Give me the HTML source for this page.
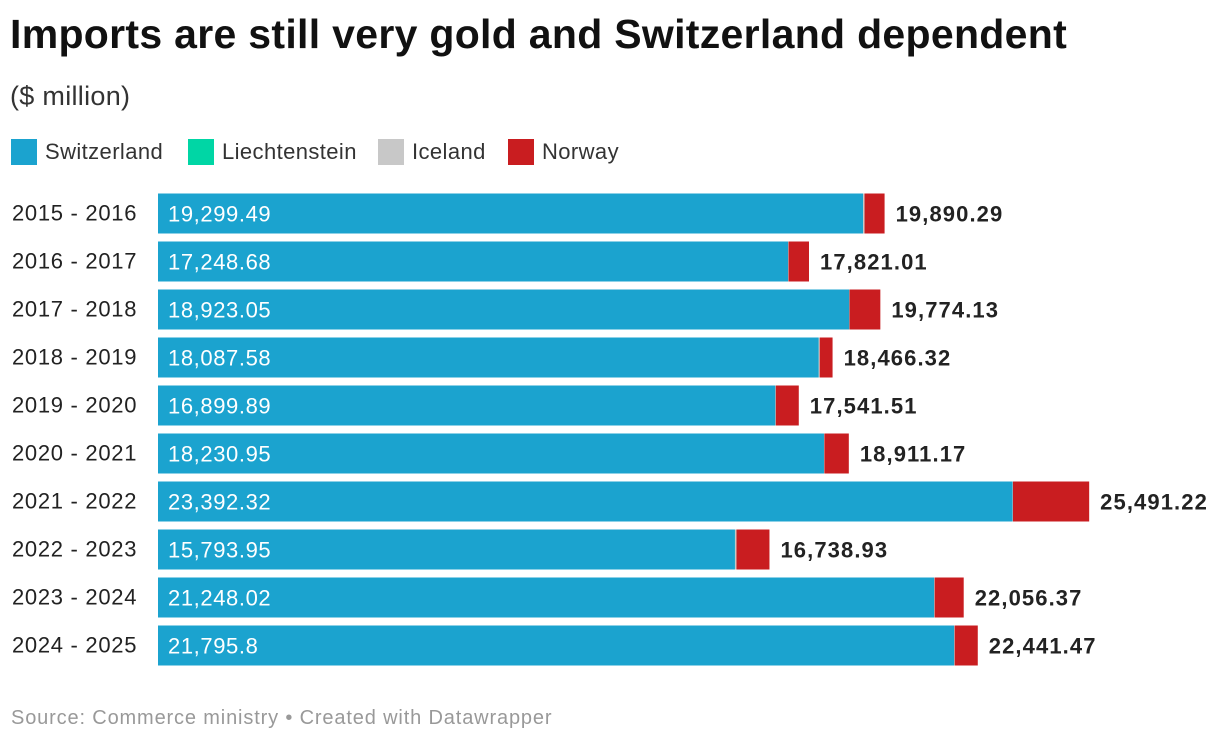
<!DOCTYPE html>
<html><head><meta charset="utf-8"><style>
body{margin:0;width:1220px;height:742px;background:#fff;font-family:"Liberation Sans",sans-serif;position:relative;overflow:hidden;color:#222}
.t{position:absolute;white-space:nowrap}
</style></head><body>
<div class="t" style="left:10px;top:11px;font-size:41px;font-weight:bold;color:#111;letter-spacing:0.3px">Imports are still very gold and Switzerland dependent</div>
<div class="t" style="left:10px;top:81px;font-size:27px;color:#333;letter-spacing:0.3px">($ million)</div>
<div id="legend"></div>
<svg id="chart" width="1220" height="742" style="position:absolute;left:0;top:0"></svg>
<div class="t" style="left:11px;top:707px;font-size:20px;color:#999;letter-spacing:0.85px">Source: Commerce ministry • Created with Datawrapper</div>
<script>
const categories=["2015 - 2016","2016 - 2017","2017 - 2018","2018 - 2019","2019 - 2020","2020 - 2021","2021 - 2022","2022 - 2023","2023 - 2024","2024 - 2025"];
const swiss=[19299.49,17248.68,18923.05,18087.58,16899.89,18230.95,23392.32,15793.95,21248.02,21795.8];
const totals=[19890.29,17821.01,19774.13,18466.32,17541.51,18911.17,25491.22,16738.93,22056.37,22441.47];
const liech=[2,2,2,2,2,2,2,2,2,2];
const iceland=[40,10,5,25,10,10,10,40,10,10];
const seriesNames=["Switzerland","Liechtenstein","Iceland","Norway"];
const colors=["#1ba3cf","#00d6a5","#c8c8c8","#c91d20"];
const ns="http://www.w3.org/2000/svg";
const svg=document.getElementById('chart');
const x0=158, k=(863-158)/19299.49;
const xs=v=>v*k;
const yTop=i=>193.5+i*48;
const lg=document.getElementById('legend');
let lx=11;
seriesNames.forEach((n,i)=>{
  const e=document.createElement('div');
  
  
  e.className='t';
  e.style.cssText=`left:${lx}px;top:139px;font-size:22px;color:#333;display:flex;align-items:center;letter-spacing:0.4px`;
  e.innerHTML=`<span style="display:inline-block;width:26px;height:26px;background:${colors[i]};margin-right:8px"></span>${n}`;
  lg.appendChild(e);
  lx+=[177,190,130,130][i];
});
function rect(x,y,w,h,c,name){const r=document.createElementNS(ns,'rect');r.setAttribute('x',x);r.setAttribute('y',y);r.setAttribute('width',Math.max(0,w));r.setAttribute('height',h);r.setAttribute('fill',c);


svg.appendChild(r);}
function text(x,y,s,o,name){const t=document.createElementNS(ns,'text');t.setAttribute('x',x);t.setAttribute('y',y);t.textContent=s;for(const a in o)t.setAttribute(a,o[a]);


svg.appendChild(t);}
categories.forEach((c,i)=>{
  const y=yTop(i),h=40;
  const norway=totals[i]-swiss[i]-liech[i]-iceland[i];
  const vals=[swiss[i],liech[i],iceland[i],norway];
  let x=x0;
  vals.forEach((v,j)=>{rect(x,y,xs(v),h,colors[j],'bar-'+seriesNames[j].toLowerCase());x+=xs(v);});
  text(12,y+27,c,{'font-size':22,'fill':'#222','font-family':'Liberation Sans','letter-spacing':'0.7'},'row-label');
  text(168,y+28,swiss[i].toLocaleString('en-US',{maximumFractionDigits:2}),{'font-size':22,'fill':'#fff','font-family':'Liberation Sans','letter-spacing':'0.6'},'switzerland-value');
  text(x0+xs(totals[i])+11,y+28,totals[i].toLocaleString('en-US',{minimumFractionDigits:2,maximumFractionDigits:2}),{'font-size':22,'fill':'#222','font-weight':'bold','font-family':'Liberation Sans','letter-spacing':'1.1'},'total-value');
});
</script>
</body></html>
